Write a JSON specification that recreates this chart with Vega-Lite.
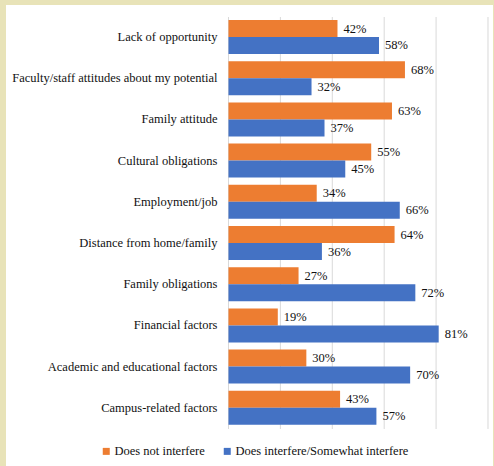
{
  "$schema": "https://vega.github.io/schema/vega-lite/v6.json",
  "width": 487,
  "height": 461,
  "autosize": {"type": "none"},
  "padding": {"left": 6, "top": 5, "right": 1, "bottom": 0},
  "background": "#e8e3b8",
  "config": {
    "view": {"fill": "white", "stroke": null},
    "font": "Liberation Serif",
    "text": {"font": "Liberation Serif", "fontSize": 12.5, "color": "#111111"}
  },
  "data": {
    "values": [
      {"category": "Lack of opportunity", "Does not interfere": 0.42, "Does interfere/Somewhat interfere": 0.58},
      {"category": "Faculty/staff attitudes about my potential", "Does not interfere": 0.68, "Does interfere/Somewhat interfere": 0.32},
      {"category": "Family attitude", "Does not interfere": 0.63, "Does interfere/Somewhat interfere": 0.37},
      {"category": "Cultural obligations", "Does not interfere": 0.55, "Does interfere/Somewhat interfere": 0.45},
      {"category": "Employment/job", "Does not interfere": 0.34, "Does interfere/Somewhat interfere": 0.66},
      {"category": "Distance from home/family", "Does not interfere": 0.64, "Does interfere/Somewhat interfere": 0.36},
      {"category": "Family obligations", "Does not interfere": 0.27, "Does interfere/Somewhat interfere": 0.72},
      {"category": "Financial factors", "Does not interfere": 0.19, "Does interfere/Somewhat interfere": 0.81},
      {"category": "Academic and educational factors", "Does not interfere": 0.30, "Does interfere/Somewhat interfere": 0.70},
      {"category": "Campus-related factors", "Does not interfere": 0.43, "Does interfere/Somewhat interfere": 0.57}
    ]
  },
  "layer": [
    {
      "data": {"values": [{"g": 0}, {"g": 0.2}, {"g": 0.4}, {"g": 0.6}, {"g": 0.8}, {"g": 1.0}]},
      "mark": {"type": "rule", "color": "#d9d9d9", "strokeWidth": 1},
      "encoding": {
        "x": {"field": "g", "type": "quantitative", "scale": {"domain": [-0.8574, 1.0193], "nice": false, "zero": false}, "axis": null},
        "y": {"datum": 0, "type": "quantitative", "scale": {"domain": [-0.08981, 1.02913], "nice": false, "zero": false}, "axis": null},
        "y2": {"datum": 1}
      }
    },
    {
      "layer": [
        {
          "transform": [{"fold": ["Does not interfere", "Does interfere/Somewhat interfere"], "as": ["series", "value"]}],
          "mark": {"type": "bar"},
          "encoding": {
            "x": {"field": "value", "type": "quantitative", "scale": {"domain": [-0.8574, 1.0193], "nice": false, "zero": false}, "axis": null},
            "x2": {"datum": 0},
            "y": {"field": "category", "type": "nominal", "sort": null,
                  "scale": {"domain": ["Lack of opportunity", "Faculty/staff attitudes about my potential", "Family attitude", "Cultural obligations", "Employment/job", "Distance from home/family", "Family obligations", "Financial factors", "Academic and educational factors", "Campus-related factors"],
                            "paddingInner": 0.175, "paddingOuter": 0.682, "align": 0.267},
                  "axis": null},
            "yOffset": {"field": "series", "type": "nominal", "scale": {"domain": ["Does not interfere", "Does interfere/Somewhat interfere"], "paddingInner": 0, "paddingOuter": 0}},
            "color": {"field": "series", "type": "nominal",
                      "scale": {"domain": ["Does not interfere", "Does interfere/Somewhat interfere"], "range": ["#ED7D31", "#4472C4"]},
                      "legend": {"orient": "none", "legendX": 94, "legendY": 440, "direction": "horizontal", "title": null,
                                 "symbolType": "square", "symbolSize": 49, "symbolStrokeWidth": 0, "labelFont": "Liberation Serif",
                                 "labelFontSize": 12.5, "labelColor": "#111111", "labelOffset": 2, "labelLimit": 0, "columnPadding": 16, "padding": 0}}
          }
        },
        {
          "transform": [{"fold": ["Does not interfere", "Does interfere/Somewhat interfere"], "as": ["series", "value"]}],
          "mark": {"type": "text", "align": "left", "baseline": "middle", "dx": 6},
          "encoding": {
            "x": {"field": "value", "type": "quantitative"},
            "y": {"field": "category", "type": "nominal", "sort": null},
            "yOffset": {"field": "series", "type": "nominal"},
            "text": {"field": "value", "type": "quantitative", "format": ".0%"}
          }
        },
        {
          "mark": {"type": "text", "align": "right", "baseline": "middle", "dx": -11},
          "encoding": {
            "x": {"datum": 0, "type": "quantitative"},
            "y": {"field": "category", "type": "nominal", "sort": null},
            "text": {"field": "category", "type": "nominal"}
          }
        }
      ]
    }
  ],
  "resolve": {"scale": {"y": "independent"}}
}
